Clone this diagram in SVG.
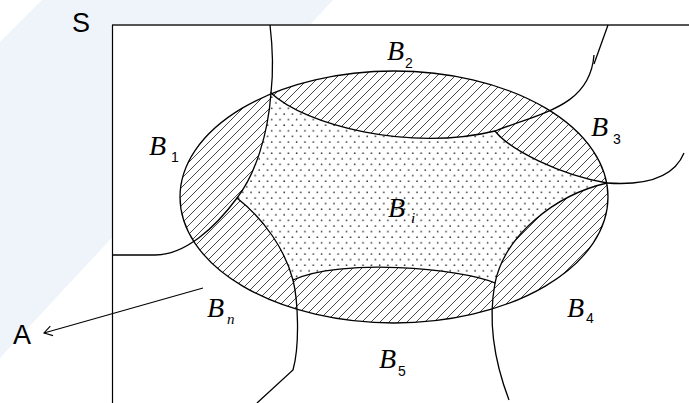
<svg xmlns="http://www.w3.org/2000/svg" width="689" height="403" viewBox="0 0 689 403">
  <defs>
    <pattern id="hatch" patternUnits="userSpaceOnUse" width="9" height="9">
      <path d="M0,9 L9,0 M-1,1 L1,-1 M8,10 L10,8" stroke="#333" stroke-width="0.9" fill="none"/>
    </pattern>
    <pattern id="dots" patternUnits="userSpaceOnUse" width="8.3" height="11.2">
      <rect width="8.3" height="11.2" fill="#fff"/>
      <circle cx="2" cy="2" r="0.85" fill="#333"/>
      <circle cx="6.15" cy="7.6" r="0.85" fill="#333"/>
    </pattern>
    <marker id="openArrow" markerUnits="userSpaceOnUse" markerWidth="14" markerHeight="14" refX="9" refY="6" orient="auto">
      <path d="M1,1 L9,6 L1,11" fill="none" stroke="#000" stroke-width="1.1"/>
    </marker>
  </defs>
  <style>
    .ln { fill: none; stroke: #000; stroke-width: 1.3; }
    .big { font-family: "Liberation Serif", "Times New Roman", serif; font-style: italic; font-size: 28px; fill: #000; }
    .sub { font-family: "Liberation Sans", Arial, sans-serif; font-size: 14px; fill: #000; }
    .subi { font-family: "Liberation Serif", "Times New Roman", serif; font-style: italic; font-size: 15px; fill: #000; }
    .lbl { font-family: "Liberation Sans", Arial, sans-serif; font-size: 27px; fill: #000; }
  </style>

  <!-- background -->
  <rect width="689" height="403" fill="#fff"/>
  <polygon points="42,0 333,0 0,358 0,42" fill="#eef4fa"/>

  <!-- sample space frame -->
  <g id="frame">
    <rect x="112" y="25" width="590" height="390" fill="#fff"/>
    <line x1="112" y1="25" x2="689" y2="25" stroke="#555" stroke-width="2"/>
    <line x1="112.5" y1="25" x2="112.5" y2="403" stroke="#000" stroke-width="1.2"/>
  </g>

  <!-- event ellipse with hatched ring -->
  <g id="ellipse">
    <ellipse cx="394" cy="197" rx="214" ry="126" fill="url(#hatch)" stroke="#000" stroke-width="1.3"/>
  </g>

  <!-- central region B_i -->
  <g id="region-Bi">
    <path class="ln" style="fill:url(#dots)" d="M271,93 C305,125 410,152 495,131 C510,150 560,175 607,183 C555,195 505,235 495,283 C460,268 340,258 293,280 C285,250 265,220 237,198 C255,175 268,135 271,93 Z"/>
  </g>

  <!-- partition boundaries -->
  <g id="partition">
    <path class="ln" d="M270,25 C273,50 273,75 271,93"/>
    <path class="ln" d="M495,131 C545,112 590,105 594,55"/>
    <path class="ln" d="M608,25 L594,64"/>
    <path class="ln" d="M607,183 C650,186 675,175 684,153"/>
    <path class="ln" d="M495,283 C490,310 490,350 509,400"/>
    <path class="ln" d="M293,280 C298,300 300,345 293,370 L257,403"/>
    <path class="ln" d="M237,198 C215,228 185,255 155,255 L112,255"/>
  </g>

  <!-- connectors -->
  <g id="connectors">
    <line x1="203" y1="288" x2="44" y2="333" stroke="#000" stroke-width="1.1" marker-end="url(#openArrow)"/>
  </g>

  <!-- labels -->
  <g id="label-S"><text class="lbl" x="72" y="32">S</text></g>
  <g id="label-A"><text class="lbl" x="13" y="344">A</text></g>
  <g id="label-B1"><text class="big" x="149" y="155">B</text><text class="sub" x="171" y="162">1</text></g>
  <g id="label-B2"><text class="big" x="387" y="60">B</text><text class="sub" x="405" y="68">2</text></g>
  <g id="label-B3"><text class="big" x="591" y="136">B</text><text class="sub" x="613" y="144">3</text></g>
  <g id="label-B4"><text class="big" x="567" y="317">B</text><text class="sub" x="586" y="323">4</text></g>
  <g id="label-B5"><text class="big" x="379" y="368">B</text><text class="sub" x="398" y="376">5</text></g>
  <g id="label-Bn"><text class="big" x="207" y="317">B</text><text class="subi" x="227" y="324">n</text></g>
  <g id="label-Bi"><text class="big" x="388" y="217">B</text><text class="subi" x="411" y="223">i</text></g>
</svg>
